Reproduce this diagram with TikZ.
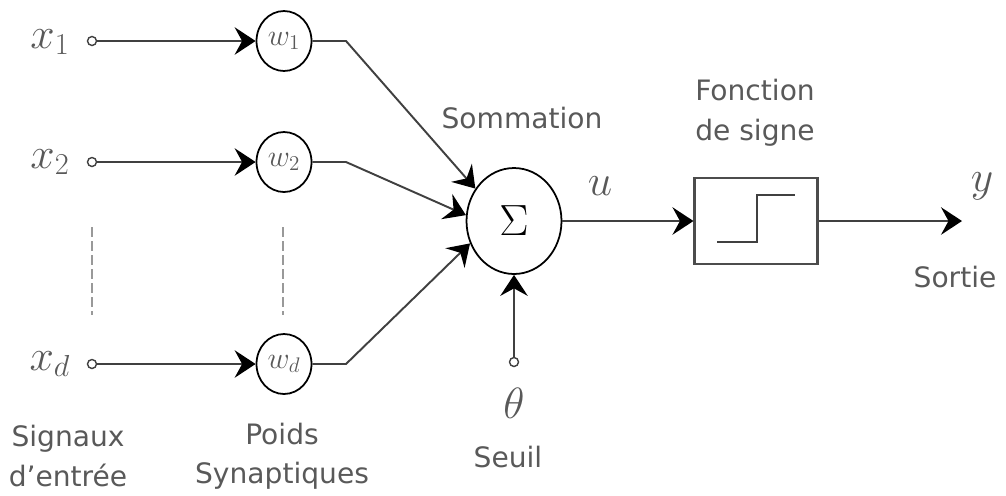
\documentclass[tikz,border=0pt]{standalone}
\usepackage{fontspec}
\setmainfont{DejaVu Sans}
\usetikzlibrary{shapes.geometric, arrows.meta, positioning, calc}

\begin{document}
\begin{tikzpicture}[x=0.02cm, y=-0.02cm, font=\fontsize{16}{22.5}\selectfont, text=black!65]
    \tikzstyle{weight} = [ellipse, draw=black, line width=1pt, minimum width=1.1cm, minimum height=1.2cm, inner sep=0pt, font=\fontsize{18}{19}\selectfont]
    \tikzstyle{summer} = [ellipse, draw=black, line width=1pt, minimum width=1.9cm, minimum height=2.12cm, inner sep=0pt, text=black, font=\fontsize{30}{32}\selectfont]
    \tikzstyle{port} = [circle, draw=black!75, line width=0.8pt, minimum size=0.18cm, inner sep=0pt]
    \tikzstyle{signbox} = [rectangle, draw=black!70, line width=1.2pt, minimum width=2.46cm, minimum height=1.72cm]
    \tikzstyle{wire} = [line width=1.1pt, draw=black!75]
    \tikzstyle{arrow} = [wire, -{Stealth[length=0.42cm, width=0.55cm, inset=0.15cm, color=black]}]
    \tikzstyle{var} = [font=\fontsize{23}{25}\selectfont]
    \tikzstyle{dots} = [line width=1.5pt, draw=black!40, dash pattern=on 5.5pt off 2.5pt]

    \useasboundingbox (0,0) rectangle (1006,495);

    % inputs and weights
    \node (p1) [port] at (92,41) {};
    \node (p2) [port] at (92,162) {};
    \node (pd) [port] at (92,364) {};
    \node (x1) [var] at (50,42) {$x_1$};
    \node (x2) [var] at (50,162) {$x_2$};
    \node (xd) [var] at (50,364) {$x_d$};
    \node (w1) [weight] at (284,41) {$w_1$};
    \node (w2) [weight] at (284,162) {$w_2$};
    \node (wd) [weight] at (284,364) {$w_d$};

    % summation and threshold
    \node (sum) [summer] at (514,221) {$\Sigma$};
    \node (pt) [port] at (514,362) {};
    \node (theta) [var] at (514,403) {$\theta$};

    % sign function
    \node (sign) [signbox] at (756,221) {};
    \draw [wire, line width=1.3pt] ([shift={(sign.center)}] -39,21) -- ++(40,0) -- ++(0,-47) -- ++(38,0);
    \coordinate (out) at (962,221);

    % labels
    \node (lsum) at (522,118) {Sommation};
    \node (lu) [var] at (600,186) {$u$};
    \node (lsign) [align=center] at (755,113) {Fonction\\de signe};
    \node (ly) [var] at (982,186) {$y$};
    \node (lout) at (955,277) {Sortie};
    \node (lin) [align=center] at (68,456) {Signaux\\d'entrée};
    \node (lw) [align=center] at (282,456) {Poids\\Synaptiques};
    \node (lth) at (508,457) {Seuil};

    \draw [dots] (92,227) -- (92,315);
    \draw [dots] (283,227) -- (283,315);

    \draw [arrow] (p1) -- (w1);
    \draw [arrow] (p2) -- (w2);
    \draw [arrow] (pd) -- (wd);
    \draw [arrow] (w1) -- ++(62,0) -- (sum.140);
    \draw [arrow] (w2) -- ++(62,0) -- (sum.173);
    \draw [arrow] (wd) -- ++(62,0) -- (sum.207);
    \draw [arrow] (pt) -- (sum);
    \draw [arrow] (sum) -- (sign);
    \draw [arrow] (sign) -- (out);
\end{tikzpicture}
\end{document}
